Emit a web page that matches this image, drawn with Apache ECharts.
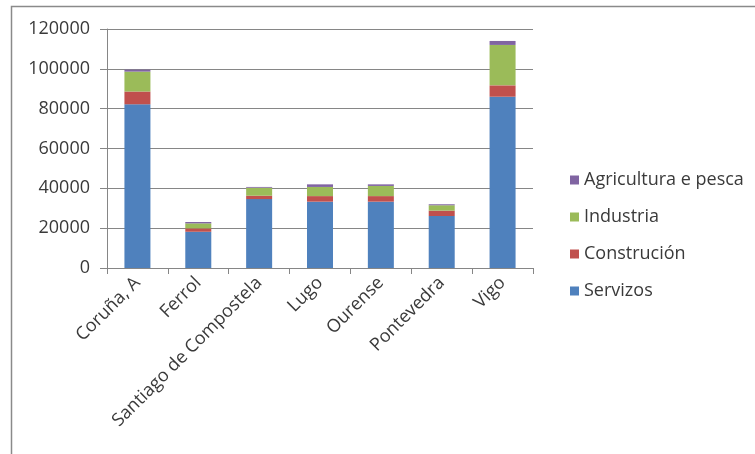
<!DOCTYPE html>
<html>
<head>
<meta charset="utf-8">
<script src="https://cdn.jsdelivr.net/npm/echarts@6/dist/echarts.min.js"></script>
<style>
  html, body { margin: 0; padding: 0; background: #fff; }
  #chart { width: 755px; height: 454px; }
</style>
</head>
<body>
<div id="chart"></div>
<script>
const cities = ['Coruña, A', 'Ferrol', 'Santiago de Compostela', 'Lugo', 'Ourense', 'Pontevedra', 'Vigo'];
const servizos = [82200, 18200, 34600, 33300, 33300, 26100, 86000];
const construcion = [6400, 1700, 1700, 2800, 2800, 2700, 5700];
const industria = [10000, 2500, 4000, 4600, 5100, 2700, 20300];
const agricultura = [1000, 700, 400, 1300, 800, 500, 2000];
const yTicks = [0, 20000, 40000, 60000, 80000, 100000, 120000];

const font = 'Open Sans';
const textColor = '#3a3a3a';

const chart = echarts.init(document.getElementById('chart'));

// helper for one stacked layer
const layer = (name, data, color) => ({
  name: name,
  type: 'bar',
  stack: 'total',
  data: data,
  barWidth: 26,
  itemStyle: { color: color },
  emphasis: { disabled: true }
});

chart.setOption({
  animation: false,
  textStyle: { fontFamily: font },
  graphic: [{
    type: 'rect',
    shape: { x: 11.5, y: 6.5, width: 900, height: 600 },
    style: { fill: 'none', stroke: '#8a8a8a', lineWidth: 1.5 },
    silent: true
  }],
  grid: { left: 107, top: 29, right: 222, bottom: 186 },
  legend: {
    orient: 'vertical',
    left: 565,
    top: 166,
    itemWidth: 9,
    itemHeight: 9,
    itemGap: 19,
    icon: 'rect',
    data: ['Agricultura e pesca', 'Industria', 'Construción', 'Servizos'],
    textStyle: { fontFamily: font, fontSize: 18, color: textColor, padding: [0, 0, 0, 0] }
  },
  xAxis: {
    type: 'category',
    data: cities,
    axisLine: { lineStyle: { color: '#868686', width: 1 } },
    axisTick: { show: true, length: 6, lineStyle: { color: '#868686' } },
    axisLabel: {
      rotate: 45,
      interval: 0,
      margin: 12,
      fontFamily: font,
      fontSize: 18,
      color: textColor
    }
  },
  yAxis: {
    type: 'value',
    min: yTicks[0],
    max: yTicks[yTicks.length - 1],
    interval: yTicks[1] - yTicks[0],
    axisLine: { show: true, lineStyle: { color: '#868686', width: 1 } },
    axisTick: { show: true, length: 7, lineStyle: { color: '#868686' } },
    splitLine: { lineStyle: { color: '#868686', width: 1 } },
    axisLabel: {
      margin: 17,
      fontFamily: font,
      fontSize: 18,
      color: textColor,
      formatter: v => String(v)
    }
  },
  series: [
    layer('Servizos', servizos, '#4F81BD'),
    layer('Construción', construcion, '#C0504D'),
    layer('Industria', industria, '#9BBB59'),
    layer('Agricultura e pesca', agricultura, '#8064A2')
  ]
});
</script>
</body>
</html>
